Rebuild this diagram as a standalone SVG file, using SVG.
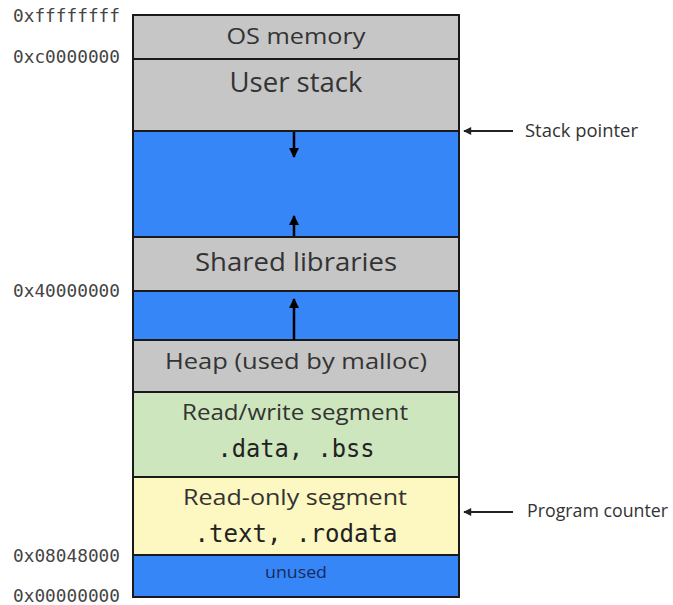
<svg xmlns="http://www.w3.org/2000/svg" width="673" height="605" viewBox="0 0 673 605">
<defs>
<marker id="ah2" viewBox="0 0 10 10" refX="9" refY="5" markerWidth="12" markerHeight="8" orient="auto" markerUnits="userSpaceOnUse">
<path d="M0,0 L10,5 L0,10 z" fill="#222"/>
</marker>
<marker id="ah3" viewBox="0 0 10 10" refX="9" refY="5" markerWidth="10" markerHeight="12" orient="auto" markerUnits="userSpaceOnUse">
<path d="M0,0 L10,5 L0,10 z" fill="#000"/>
</marker>
</defs>
<style>
.seg{stroke:#1a1a1a;stroke-width:2}
.gray{fill:#c6c6c6}
.blue{fill:#3686f7}
.green{fill:#cde6bd}
.yellow{fill:#fdf7c1}
.lbl{font-family:"Open Sans","DejaVu Sans",sans-serif;fill:#333;text-anchor:middle}
.mono{font-family:"DejaVu Sans Mono","Liberation Mono",monospace;fill:#222;text-anchor:middle}
.addr{font-family:"DejaVu Sans Mono","Liberation Mono",monospace;fill:#444;font-size:17px}
.side{font-family:"Open Sans","DejaVu Sans",sans-serif;fill:#333;font-size:18.5px}
.arr{stroke:#000;stroke-width:2.5;fill:none}
.ptr{stroke:#222;stroke-width:1.8;fill:none}
</style>
<rect x="0" y="0" width="673" height="605" fill="#fff"/>
<g id="os-memory">
<rect class="seg gray" x="133" y="15" width="326" height="44"/>
<text class="lbl" x="296" y="44" font-size="22" textLength="139" lengthAdjust="spacingAndGlyphs">OS memory</text>
</g>
<g id="user-stack">
<rect class="seg gray" x="133" y="59" width="326" height="72"/>
<text class="lbl" x="296" y="92" font-size="27" textLength="133" lengthAdjust="spacingAndGlyphs">User stack</text>
</g>
<g id="free-upper">
<rect class="seg blue" x="133" y="131" width="326" height="106"/>
</g>
<g id="shared-libraries">
<rect class="seg gray" x="133" y="237" width="326" height="54"/>
<text class="lbl" x="296" y="271" font-size="26" textLength="202" lengthAdjust="spacingAndGlyphs">Shared libraries</text>
</g>
<g id="free-lower">
<rect class="seg blue" x="133" y="291" width="326" height="49"/>
</g>
<g id="heap">
<rect class="seg gray" x="133" y="340" width="326" height="52"/>
<text class="lbl" x="296" y="369" font-size="22" textLength="262" lengthAdjust="spacingAndGlyphs">Heap (used by malloc)</text>
</g>
<g id="read-write">
<rect class="seg green" x="133" y="392" width="326" height="85"/>
<text class="lbl" x="295" y="420" font-size="22" textLength="226" lengthAdjust="spacingAndGlyphs">Read/write segment</text>
<text class="mono" x="296" y="457" font-size="25" textLength="157" lengthAdjust="spacingAndGlyphs">.data, .bss</text>
</g>
<g id="read-only">
<rect class="seg yellow" x="133" y="477" width="326" height="78"/>
<text class="lbl" x="295" y="505" font-size="22" textLength="224" lengthAdjust="spacingAndGlyphs">Read-only segment</text>
<text class="mono" x="296" y="542" font-size="25" textLength="203" lengthAdjust="spacingAndGlyphs">.text, .rodata</text>
</g>
<g id="unused">
<rect class="seg blue" x="133" y="555" width="326" height="42"/>
<text class="lbl" x="296" y="578" font-size="16" style="fill:#1a2a5a" textLength="62" lengthAdjust="spacingAndGlyphs">unused</text>
</g>
<g id="addresses">
<text class="addr" x="13" y="22" textLength="107" lengthAdjust="spacingAndGlyphs">0xffffffff</text>
<text class="addr" x="13" y="63" textLength="107" lengthAdjust="spacingAndGlyphs">0xc0000000</text>
<text class="addr" x="13" y="297" textLength="107" lengthAdjust="spacingAndGlyphs">0x40000000</text>
<text class="addr" x="13" y="562" textLength="107" lengthAdjust="spacingAndGlyphs">0x08048000</text>
<text class="addr" x="13" y="602" textLength="107" lengthAdjust="spacingAndGlyphs">0x00000000</text>
</g>
<g id="stack-pointer">
<text class="side" x="525" y="137" textLength="113" lengthAdjust="spacingAndGlyphs">Stack pointer</text>
</g>
<g id="program-counter">
<text class="side" x="527" y="517" textLength="141" lengthAdjust="spacingAndGlyphs">Program counter</text>
</g>
<g id="connectors">
<line class="arr" x1="294" y1="132" x2="294" y2="157" marker-end="url(#ah3)"/>
<line class="arr" x1="294" y1="236" x2="294" y2="216" marker-end="url(#ah3)"/>
<line class="arr" x1="294" y1="340" x2="294" y2="299" marker-end="url(#ah3)"/>
<line class="ptr" x1="513" y1="131" x2="464" y2="131" marker-end="url(#ah2)"/>
<line class="ptr" x1="513" y1="512" x2="464" y2="512" marker-end="url(#ah2)"/>
</g>
</svg>
